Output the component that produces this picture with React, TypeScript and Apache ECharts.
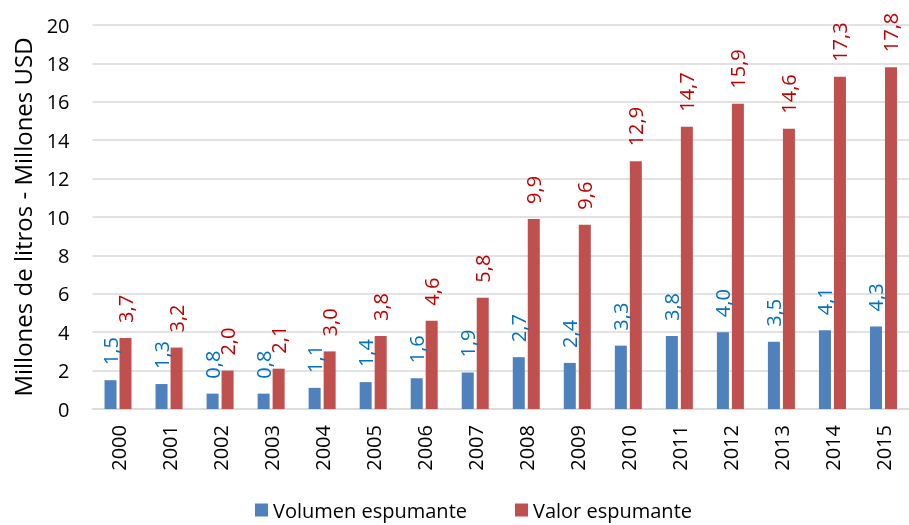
import React, { useEffect, useRef } from "react";
import * as echarts from "echarts";

const years = ["2000","2001","2002","2003","2004","2005","2006","2007","2008","2009","2010","2011","2012","2013","2014","2015"];
const volumen = [1.5,1.3,0.8,0.8,1.1,1.4,1.6,1.9,2.7,2.4,3.3,3.8,4.0,3.5,4.1,4.3];
const valor = [3.7,3.2,2.0,2.1,3.0,3.8,4.6,5.8,9.9,9.6,12.9,14.7,15.9,14.6,17.3,17.8];

const FONT = "'Open Sans', 'Noto Sans', sans-serif";

export default function App() {
  const ref = useRef<HTMLDivElement>(null);
  useEffect(() => {
    const chart = echarts.init(ref.current!, null, { renderer: "svg" });
    const fmt = (p: any) => Number(p.value).toFixed(1).replace(".", ",");
    const lbl = (color: string) => ({
      show: true,
      position: "top",
      rotate: 90,
      align: "left",
      verticalAlign: "middle",
      distance: 15,
      formatter: fmt,
      fontSize: 20,
      color,
      fontFamily: FONT,
    });
    chart.setOption({
      animation: false,
      textStyle: { fontFamily: FONT },
      grid: { left: 92.5, top: 25, width: 825, height: 384 },
      legend: {
        top: 500,
        left: 255,
        padding: 0,
        itemWidth: 13,
        itemHeight: 13,
        itemGap: 48,
        icon: "rect",
        textStyle: { fontSize: 20, color: "#000", fontFamily: FONT },
        data: ["Volumen espumante", "Valor espumante"],
      },
      xAxis: {
        type: "category",
        data: years,
        axisTick: { show: false },
        axisLine: { lineStyle: { color: "#d9d9d9", width: 1.5 } },
        axisLabel: { rotate: 90, fontSize: 20, color: "#000", margin: 16, fontFamily: FONT },
      },
      yAxis: {
        type: "value",
        min: 0,
        max: 20,
        interval: 2,
        name: "Millones de litros - Millones USD",
        nameLocation: "middle",
        nameGap: 58,
        nameTextStyle: { fontSize: 24, color: "#000", fontFamily: FONT },
        axisLabel: { fontSize: 20, color: "#000", margin: 23, fontFamily: FONT },
        splitLine: { lineStyle: { color: "#d9d9d9", width: 1.5 } },
        axisLine: { show: false },
        axisTick: { show: false },
      },
      series: [
        {
          name: "Volumen espumante",
          type: "bar",
          data: volumen,
          barWidth: 12,
          barGap: "25%",
          itemStyle: { color: "#4F81BD" },
          label: lbl("#0070C0"),
        },
        {
          name: "Valor espumante",
          type: "bar",
          data: valor,
          barWidth: 12,
          itemStyle: { color: "#C0504D" },
          label: lbl("#C00000"),
        },
      ],
    });
    return () => chart.dispose();
  }, []);
  return (
    <div
      ref={ref}
      style={{ position: "fixed", left: 0, top: 0, width: 909, height: 525 }}
    />
  );
}
